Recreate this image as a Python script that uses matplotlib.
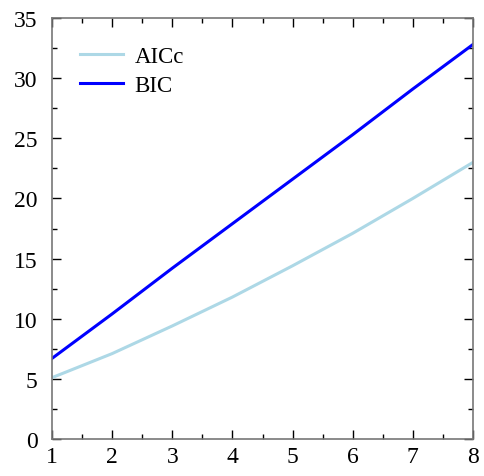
import numpy as np
import matplotlib.pyplot as plt
from matplotlib.ticker import MultipleLocator

plt.rcParams['font.family'] = ['Liberation Serif', 'DejaVu Serif']
plt.rcParams['mathtext.fontset'] = 'stix'

# data
k = [1, 2, 3, 4, 5, 6, 7, 8]
aicc = [5.1, 7.1, 9.4, 11.8, 14.4, 17.1, 20.0, 23.0]
bic = [6.7, 10.4, 14.2, 17.9, 21.6, 25.3, 29.1, 32.8]

fig = plt.figure(figsize=(4.84, 4.77), dpi=100)
ax = fig.add_axes([52 / 484, 37 / 477, 421 / 484, 421 / 477])

ax.plot(k, aicc, color='lightblue', lw=2.2, label='AICc')
ax.plot(k, bic, color='blue', lw=2.2, label='BIC')

ax.set_xlim(1, 8)
ax.set_ylim(0, 35)
ax.xaxis.set_major_locator(MultipleLocator(1))
ax.xaxis.set_minor_locator(MultipleLocator(0.5))
ax.yaxis.set_major_locator(MultipleLocator(5))
ax.yaxis.set_minor_locator(MultipleLocator(2.5))
ax.tick_params(which='both', direction='in', top=True, right=True,
               labelsize=17, width=1, color='black')
ax.tick_params(which='major', length=6.5)
ax.tick_params(which='minor', length=3.6)
ax.tick_params(axis='x', pad=5)
ax.tick_params(axis='y', pad=10.5)
for s in ax.spines.values():
    s.set_color('#777777')
    s.set_linewidth(1.2)

ax.legend(loc='upper left', frameon=False, fontsize=16.5, handlelength=1.9,
          borderaxespad=0.8, handletextpad=0.5, labelspacing=0.35)

fig.savefig('out.png', dpi=100)
